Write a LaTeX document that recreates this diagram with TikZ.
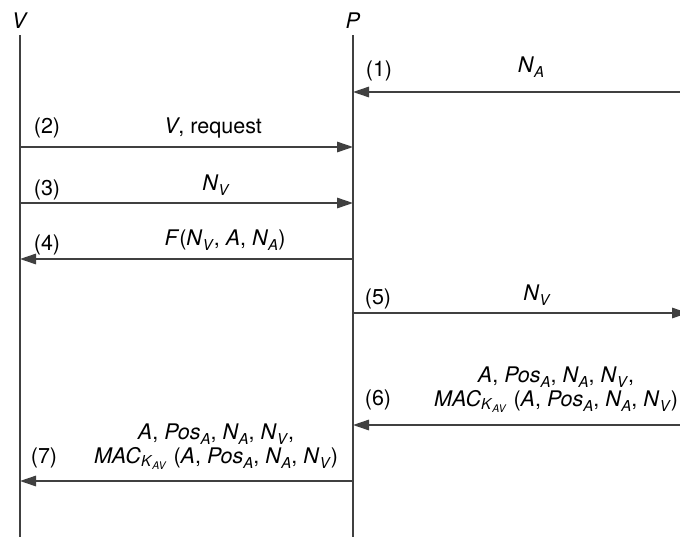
\documentclass[tikz,border=0pt]{standalone}
\usepackage{fontspec}
\setmainfont{TeX Gyre Heros}
\usetikzlibrary{arrows.meta}
\newcommand{\ix}[2]{\textit{#1}\raisebox{-5pt}{\fontsize{15}{15}\selectfont\textit{#2}}}

\begin{document}
\begin{tikzpicture}[x=1pt, y=-1pt, every node/.style={font=\fontsize{21.5}{24}\selectfont, inner sep=0pt}, >={Triangle[length=16pt, width=10.5pt]}, life/.style={line width=1.5pt, black!75}, msg/.style={->, line width=1.5pt, black!75}]
	\useasboundingbox (0,0) rectangle (680,539);
	% lifelines
	\foreach \p/\x in {V/20, P/353, A/688} {
		\coordinate (\p top) at (\x,35);
		\coordinate (\p bot) at (\x,537);
		\draw[life] (\p top) -- (\p bot);
		\node[anchor=base] (\p lbl) at (\x,28) {\textit{\p}};
	}
	% messages
	\foreach \n/\y/\s/\t in {1/92/A/P, 2/147/V/P, 3/203/V/P, 4/259/P/V, 5/313/P/A, 6/425/A/P, 7/481/P/V} {
		\coordinate (m\n) at (0,\y);
		\draw[msg] (\s top |- m\n) -- (\t top |- m\n);
	}
	% step numbers
	\foreach \n/\x/\y in {1/379/76, 2/47/133, 3/47/195, 4/47/250, 5/378/304, 6/378/405, 7/44/463}
		\node[anchor=base] (s\n) at (\x,\y) {(\n)};
	% message labels
	\node[anchor=base] (l1) at (531,72) {\ix{N}{A}};
	\node[anchor=base] (l2) at (213,133) {\textit{V}, request};
	\node[anchor=base] (l3) at (216,190) {\ix{N}{V}};
	\node[anchor=base] (l4) at (225,245) {\textit{F}(\ix{N}{V}, \textit{A}, \ix{N}{A})};
	\node[anchor=base] (l5) at (537,300) {\ix{N}{V}};
	\node[anchor=base, align=center] (l6) at (556,406) {\textit{A}, \ix{Pos}{A}, \ix{N}{A}, \ix{N}{V},\\ \textit{MAC}\textsubscript{\textit{K}\textsubscript{\textit{AV}}} (\textit{A}, \ix{Pos}{A}, \ix{N}{A}, \ix{N}{V})};
	\node[anchor=base, align=center] (l7) at (216,463) {\textit{A}, \ix{Pos}{A}, \ix{N}{A}, \ix{N}{V},\\ \textit{MAC}\textsubscript{\textit{K}\textsubscript{\textit{AV}}} (\textit{A}, \ix{Pos}{A}, \ix{N}{A}, \ix{N}{V})};
\end{tikzpicture}
\end{document}
